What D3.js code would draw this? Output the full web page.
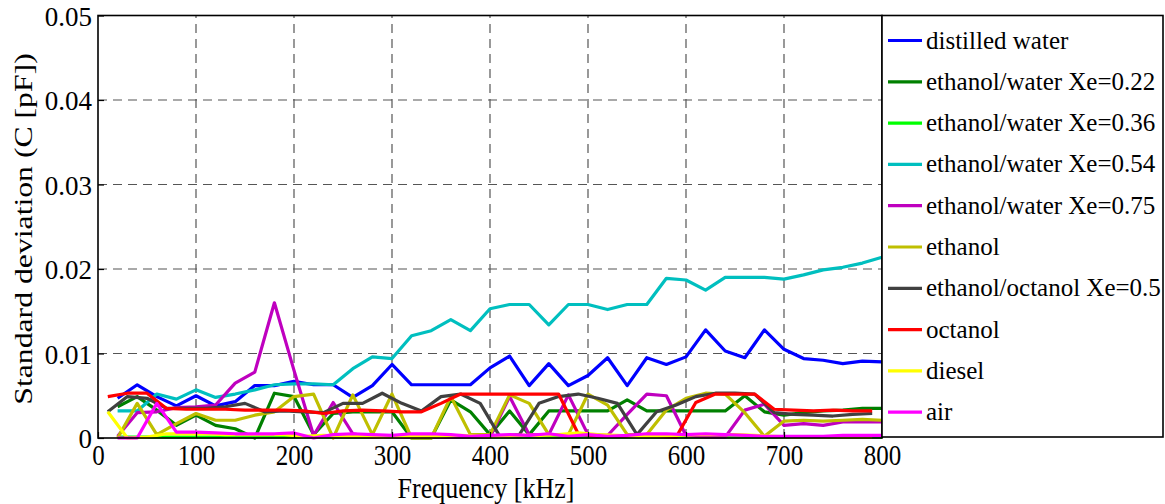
<!DOCTYPE html>
<html><head><meta charset="utf-8">
<script src="https://cdn.jsdelivr.net/npm/d3@7"></script>
<style>
body{margin:0;background:#fff;}
text{font-family:"Liberation Serif","Times New Roman",serif;fill:#000;}
</style>
</head><body>
<svg id="chart" width="1165" height="504"></svg>
<script>
// ---------- data ----------
const freqA = [20,40,60,80,100,120,140,160,180,200,220,240,260,280,300,320,340,360,380,400,
               420,440,460,480,500,520,540,560,580,600,620,640,660,680,700,720,740,760,780,800];
const freqB = [10,30,50,70,90,110,130,150,170,190,210,230,250,270,290,310,330,350,370,390,
               410,430,450,470,490,510,530,550,570,590,610,630,650,670,690,710,730,750,770,790];

const distilledWater = [0.0047,0.0063,0.0049,0.0038,0.0050,0.0038,0.0043,0.0062,0.0062,0.0067,
  0.0063,0.0063,0.0048,0.0062,0.0087,0.0063,0.0063,0.0063,0.0063,0.0083,
  0.0097,0.0062,0.0088,0.0062,0.0074,0.0095,0.0062,0.0095,0.0087,0.0096,
  0.0128,0.0103,0.0095,0.0128,0.0105,0.0094,0.0092,0.0088,0.0091,0.0090];
const ew022 = [0.0037,0.0049,0.0033,0.0015,0.0027,0.0015,0.0011,0.0000,0.0053,0.0049,
  0.0004,0.0029,0.0031,0.0031,0.0031,0.0000,0.0000,0.0045,0.0031,0.0004,
  0.0032,0.0004,0.0032,0.0032,0.0032,0.0032,0.0045,0.0032,0.0032,0.0032,
  0.0032,0.0032,0.0050,0.0031,0.0027,0.0030,0.0032,0.0033,0.0035,0.0035];
const ew036 = [0.0001,0.0001,0.0001,0.0001,0.0001,0.0001,0.0001,0.0001,0.0001,0.0001,
  0.0001,0.0001,0.0001,0.0001,0.0001,0.0001,0.0001,0.0001,0.0001,0.0001,
  0.0001,0.0001,0.0001,0.0001,0.0001,0.0001,0.0001,0.0001,0.0001,0.0001,
  0.0001,0.0001,0.0001,0.0001,0.0001,0.0001,0.0001,0.0001,0.0001,0.0001];
const ew054 = [0.0032,0.0032,0.0052,0.0046,0.0057,0.0048,0.0052,0.0057,0.0063,0.0064,
  0.0064,0.0063,0.0082,0.0096,0.0094,0.0121,0.0127,0.0140,0.0127,0.0153,
  0.0158,0.0158,0.0134,0.0158,0.0158,0.0152,0.0158,0.0158,0.0189,0.0187,
  0.0175,0.0190,0.0190,0.0190,0.0188,0.0193,0.0199,0.0202,0.0207,0.0214];
const ew075 = [0.0002,0.0030,0.0031,0.0036,0.0037,0.0039,0.0065,0.0078,0.0160,0.0080,
  0.0003,0.0042,0.0005,0.0001,0.0001,0.0001,0.0001,0.0001,0.0001,0.0001,
  0.0049,0.0004,0.0004,0.0051,0.0004,0.0003,0.0028,0.0052,0.0050,0.0003,
  0.0001,0.0001,0.0033,0.0040,0.0015,0.0017,0.0015,0.0019,0.0019,0.0019];
const ethanol = [0.0000,0.0041,0.0004,0.0017,0.0029,0.0021,0.0021,0.0027,0.0031,0.0049,
  0.0052,0.0000,0.0051,0.0004,0.0052,0.0000,0.0000,0.0049,0.0004,0.0004,
  0.0051,0.0041,0.0004,0.0004,0.0052,0.0039,0.0004,0.0004,0.0033,0.0047,
  0.0053,0.0052,0.0030,0.0002,0.0020,0.0021,0.0020,0.0021,0.0022,0.0021];
const ethOct = [0.0031,0.0049,0.0047,0.0035,0.0035,0.0035,0.0037,0.0041,0.0031,0.0032,
  0.0031,0.0030,0.0041,0.0041,0.0053,0.0041,0.0032,0.0049,0.0052,0.0041,
  0.0002,0.0004,0.0041,0.0049,0.0052,0.0047,0.0041,0.0004,0.0031,0.0039,
  0.0049,0.0053,0.0053,0.0052,0.0030,0.0028,0.0027,0.0026,0.0028,0.0029];
const octanol = [0.0049,0.0053,0.0053,0.0035,0.0034,0.0034,0.0034,0.0033,0.0033,0.0033,
  0.0032,0.0029,0.0032,0.0033,0.0032,0.0031,0.0031,0.0041,0.0052,0.0052,
  0.0052,0.0052,0.0052,0.0052,0.0005,0.0002,0.0002,0.0002,0.0002,0.0001,
  0.0042,0.0052,0.0052,0.0052,0.0034,0.0033,0.0032,0.0033,0.0032,0.0032];
const diesel = [0.0031,0.0000,0.0001,0.0005,0.0005,0.0005,0.0004,0.0004,0.0004,0.0004,
  0.0002,0.0003,0.0002,0.0002,0.0001,0.0002,0.0002,0.0002,0.0003,0.0002,
  0.0002,0.0003,0.0003,0.0004,0.0006,0.0004,0.0003,0.0002,0.0002,0.0003,
  0.0004,0.0004,0.0004,0.0003,0.0002,0.0001,0.0001,0.0001,0.0001,0.0001];
const air = [0.0000,0.0000,0.0041,0.0007,0.0007,0.0006,0.0005,0.0005,0.0005,0.0006,
  0.0000,0.0004,0.0005,0.0004,0.0003,0.0005,0.0005,0.0004,0.0002,0.0003,
  0.0004,0.0003,0.0005,0.0002,0.0004,0.0002,0.0003,0.0005,0.0005,0.0004,
  0.0005,0.0004,0.0003,0.0002,0.0002,0.0002,0.0002,0.0003,0.0003,0.0003];

const seriesNames = ["distilled water","ethanol/water Xe=0.22","ethanol/water Xe=0.36",
  "ethanol/water Xe=0.54","ethanol/water Xe=0.75","ethanol","ethanol/octanol Xe=0.5",
  "octanol","diesel","air"];
const seriesValues = [distilledWater, ew022, ew036, ew054, ew075, ethanol, ethOct, octanol, diesel, air];
const seriesFreq = [freqA, freqA, freqA, freqA, freqA, freqA, freqB, freqB, freqB, freqA];
const seriesColors = ["#0000FF","#008000","#00FF00","#00BFBF","#BF00BF","#BFBF00","#404040","#FF0000","#FFFF00","#FF00FF"];

const xTicks = [0,100,200,300,400,500,600,700,800];
const yTicks = [0,0.01,0.02,0.03,0.04,0.05];
const xLabel = "Frequency [kHz]";
const yLabel = "Standard deviation (C [pF])";

// ---------- layout ----------
const L = 98, R = 882, T = 15.5, B = 438;
const svg = d3.select("#chart");
const x = d3.scaleLinear().domain([0, 800]).range([L, R]);
const y = d3.scaleLinear().domain([0, 0.05]).range([B, T]);

// grid
const grid = svg.append("g").attr("stroke", "#555").attr("stroke-width", 1.2).attr("stroke-dasharray", "9,6");
grid.selectAll("line.vx").data(xTicks.filter(v => v > 0 && v < 800)).join("line")
  .attr("x1", d => x(d)).attr("x2", d => x(d)).attr("y1", y(0)).attr("y2", y(0.05));
grid.selectAll("line.hy").data(yTicks.filter(v => v > 0 && v < 0.05)).join("line")
  .attr("x1", x(0)).attr("x2", x(800)).attr("y1", d => y(d)).attr("y2", d => y(d));

// series
const line = d3.line().x(d => x(d[0])).y(d => y(d[1]));
seriesValues.forEach((vals, i) => {
  const pts = vals.map((v, j) => [seriesFreq[i][j], v]);
  svg.append("path").datum(pts).attr("d", line)
    .attr("fill", "none").attr("stroke", seriesColors[i])
    .attr("stroke-width", 3.2).attr("stroke-linejoin", "round");
});

// axes
const xAxis = svg.append("g").attr("transform", `translate(0,${B})`)
  .call(d3.axisBottom(x).tickValues(xTicks).tickFormat(d3.format("d")).tickSizeInner(-6).tickSizeOuter(0));
xAxis.select(".domain").remove();
xAxis.selectAll(".tick line").attr("stroke", "#000").attr("stroke-width", 1.2);
xAxis.selectAll(".tick text").attr("y", 0).attr("dy", null)
  .attr("transform", "translate(0,27) scale(1,1.22)")
  .attr("font-size", 25).attr("font-family", "Liberation Serif");

const yAxis = svg.append("g").attr("transform", `translate(${L},0)`)
  .call(d3.axisLeft(y).tickValues(yTicks).tickFormat(d => d === 0 ? "0" : d3.format(".2f")(d)).tickSizeInner(-6).tickSizeOuter(0));
yAxis.select(".domain").remove();
yAxis.selectAll(".tick line").attr("stroke", "#000").attr("stroke-width", 1.2);
yAxis.selectAll(".tick text").attr("x", 0).attr("dy", null)
  .attr("transform", "translate(-6,9.5)")
  .attr("font-size", 27).attr("font-family", "Liberation Serif");

// frame
svg.append("rect").attr("x", L).attr("y", T).attr("width", R - L).attr("height", B - T)
  .attr("fill", "none").attr("stroke", "#000").attr("stroke-width", 1.6);

// axis labels
svg.append("text").attr("text-anchor", "middle").attr("font-size", 26)
  .attr("transform", `translate(${(L + R) / 2 - 4},498) scale(1,1.15)`).text(xLabel);
svg.append("text").attr("text-anchor", "middle").attr("font-size", 26)
  .attr("transform", "translate(32,229) scale(1,1.22) rotate(-90)").text(yLabel);

// legend
const lg = svg.append("g");
lg.append("rect").attr("x", 882).attr("y", 15.5).attr("width", 281).attr("height", 421.5)
  .attr("fill", "#fff").attr("stroke", "#000").attr("stroke-width", 1.6);
seriesNames.forEach((n, i) => {
  const cy = 40.5 + i * 41.3;
  lg.append("line").attr("x1", 888).attr("x2", 922).attr("y1", cy).attr("y2", cy)
    .attr("stroke", seriesColors[i]).attr("stroke-width", 3.2);
  lg.append("text").attr("x", 926).attr("y", cy + 8).attr("font-size", 25).text(n);
});
</script>
</body></html>
